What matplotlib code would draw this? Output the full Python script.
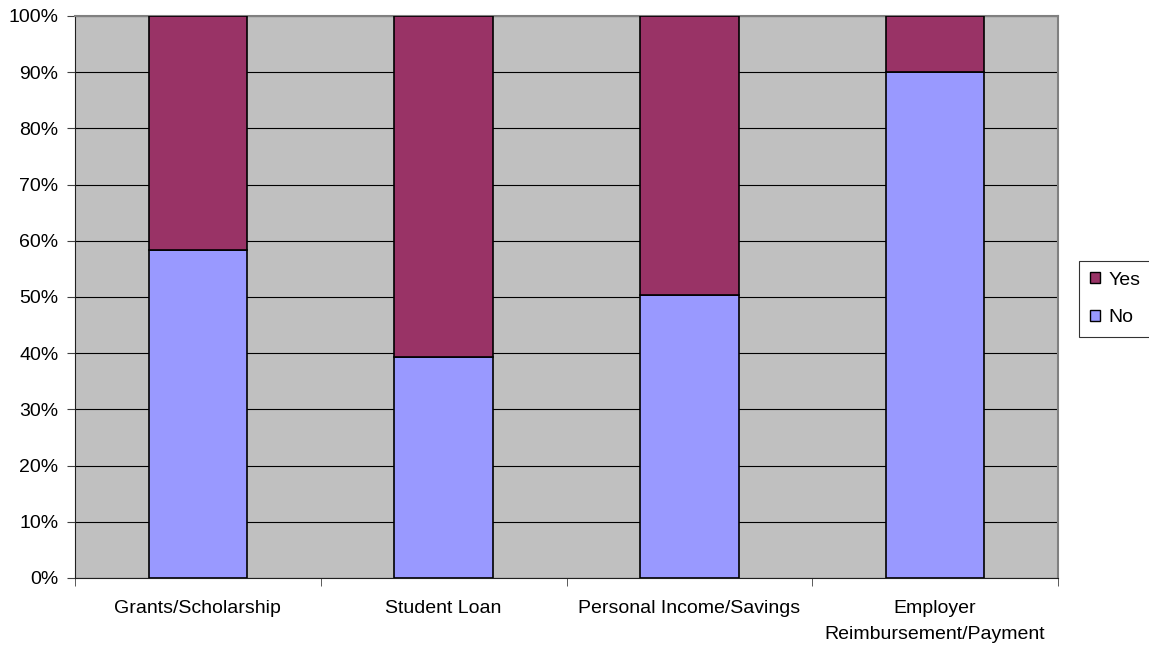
import numpy as np
import matplotlib.pyplot as plt
from matplotlib.patches import Patch

categories = ['Grants/Scholarship', 'Student Loan', 'Personal Income/Savings',
              'Employer\nReimbursement/Payment']
no_pct = [58.4, 39.3, 50.4, 90.0]
yes_pct = [41.6, 60.7, 49.6, 10.0]

plt.rcParams['font.family'] = ['Liberation Sans', 'DejaVu Sans']
plt.rcParams['font.size'] = 14

fig = plt.figure(figsize=(11.49, 6.52), dpi=100)
ax = fig.add_axes([0.0653, 0.1135, 0.8555, 0.862])
ax.set_facecolor('#C0C0C0')

x = np.arange(len(categories))
ax.bar(x, no_pct, width=0.4, color='#9999FF', edgecolor='black', linewidth=1.2, zorder=3)
ax.bar(x, yes_pct, width=0.4, bottom=no_pct, color='#993366', edgecolor='black',
       linewidth=1.2, zorder=3)

ax.set_xlim(-0.5, len(categories) - 0.5)
ax.set_ylim(0, 100)
ax.set_yticks(np.arange(0, 101, 10))
ax.set_yticklabels(['%d%%' % v for v in range(0, 101, 10)])
ax.yaxis.grid(True, color='black', linewidth=0.8, zorder=1)
ax.set_axisbelow(True)

# category names centred under bars, ticks between categories
ax.set_xticks(x)
ax.set_xticklabels(categories, linespacing=1.7)
ax.tick_params(axis='x', length=0, pad=16)
ax.set_xticks(np.arange(-0.5, len(categories), 1), minor=True)
ax.tick_params(axis='x', which='minor', length=6, direction='out', color='#404040')
ax.tick_params(axis='y', length=6, direction='out', color='#404040', pad=6)

for side in ['left', 'bottom']:
    ax.spines[side].set_color('#202020')
for side in ['top', 'right']:
    ax.spines[side].set_color('#808080')
    ax.spines[side].set_linewidth(1.5)
    ax.spines[side].set_zorder(2.5)

handles = [Patch(facecolor='#993366', edgecolor='black'),
           Patch(facecolor='#9999FF', edgecolor='black')]
leg = fig.legend(handles, ['Yes', 'No'], loc='upper left',
                 bbox_to_anchor=(1079 / 1149, 1 - 261 / 652), frameon=True, fancybox=False,
                 handlelength=0.52, handleheight=0.52, handletextpad=0.46,
                 labelspacing=1.05, borderpad=0.55, borderaxespad=0, edgecolor='black')
leg.get_frame().set_linewidth(0.8)

fig.savefig('out.png', dpi=100)
